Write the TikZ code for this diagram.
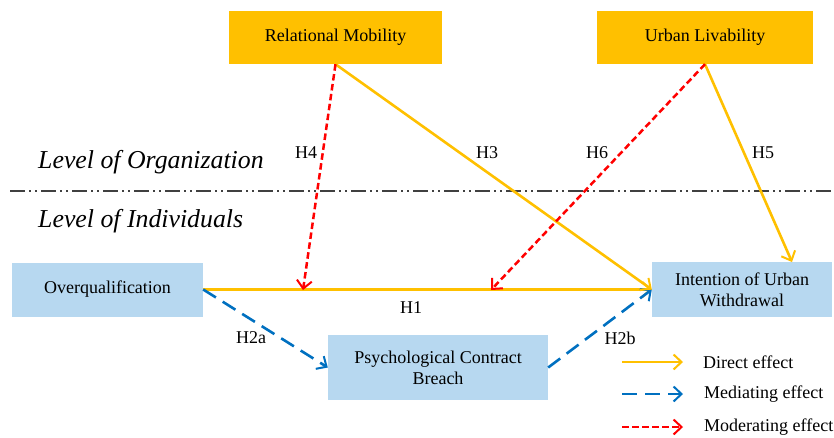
\documentclass[tikz,border=0pt]{standalone}
\usepackage{fontspec}
\setmainfont{Liberation Serif}
\usetikzlibrary{arrows.meta}
\definecolor{gold}{HTML}{FFC000}
\definecolor{paleblue}{HTML}{B7D8F0}
\definecolor{medblue}{HTML}{0070C0}
\definecolor{modred}{HTML}{FF0000}
\tikzset{
  txt/.style={font=\fontsize{18}{21}\selectfont},
  levelbox/.style={txt, fill=gold, minimum width=213pt, minimum height=53pt, inner sep=0pt},
  varbox/.style={txt, fill=paleblue, inner sep=0pt, align=center},
  direct/.style={draw=gold, line width=2.6pt, -{Straight Barb[length=8pt,width=15pt,line width=2pt]}},
  mediate/.style={draw=medblue, line width=2.6pt, dash pattern=on 15pt off 8pt, -{Straight Barb[length=8pt,width=15pt,line width=2pt]}},
  moderate/.style={draw=modred, line width=2.5pt, dash pattern=on 6.5pt off 3.5pt, -{Straight Barb[length=8pt,width=15pt,line width=2pt]}},
  hyp/.style={txt, inner sep=1pt},
  level/.style={font=\fontsize{25.8}{30}\selectfont\itshape, anchor=west, inner sep=0pt},
}
\begin{document}
\begin{tikzpicture}[x=1pt, y=-1pt]
  \useasboundingbox (0,0) rectangle (834,437);

  % organisation-level moderators
  \node[levelbox] (rm) at (335.5,37.5) {Relational Mobility};
  \node[levelbox, minimum width=216pt] (ul) at (705,37.5) {Urban Livability};

  % individual-level variables
  \node[varbox, minimum width=191pt, minimum height=54pt] (oq) at (107.5,289.5) {Overqualification};
  \node[varbox, minimum width=220pt, minimum height=65pt] (pcb) at (438,367.5) {Psychological Contract\\Breach};
  \node[varbox, minimum width=180pt, minimum height=55pt] (iuw) at (742,289.5) {Intention of Urban\\Withdrawal};

  % separator between the two levels
  \draw[black!75, line width=1.4pt, dash pattern=on 15pt off 4pt on 2pt off 4pt on 2pt off 4pt] (10,191) -- (832,191);
  \node[level] (lorg) at (38,162) {Level of Organization};
  \node[level] (lind) at (38,221) {Level of Individuals};

  % points where the moderating paths meet H1
  \coordinate (m4) at (303,290);
  \coordinate (m6) at (491,290);
  \coordinate (h5end) at (792,262);

  % paths
  \draw[direct] (oq.east) -- (iuw.west);
  \draw[mediate] (oq.east) -- (pcb.west);
  \draw[mediate] (pcb.east) -- (iuw.west);
  \draw[direct] (rm.south) -- (iuw.west);
  \draw[direct] (ul.south) -- (h5end);
  \draw[moderate] (rm.south) -- (m4);
  \draw[moderate] (ul.south) -- (m6);

  % hypothesis labels
  \node[hyp] (h1) at (411,308) {H1};
  \node[hyp] (h2a) at (251,338) {H2a};
  \node[hyp] (h2b) at (620,338) {H2b};
  \node[hyp] (h3) at (487,153) {H3};
  \node[hyp] (h4) at (306,153) {H4};
  \node[hyp] (h5) at (763,153) {H5};
  \node[hyp] (h6) at (597,153) {H6};

  % legend
  \coordinate (da) at (622,362); \coordinate (db) at (683,362);
  \coordinate (ma) at (622,394); \coordinate (mb) at (683,394);
  \coordinate (ra) at (622,427); \coordinate (rb) at (683,427);
  \draw[direct] (da) -- (db);
  \draw[mediate] (ma) -- (mb);
  \draw[moderate] (ra) -- (rb);
  \node[txt, anchor=west, inner sep=0pt] (ld) at (703,362) {Direct effect};
  \node[txt, anchor=west, inner sep=0pt] (lm) at (704,394) {Mediating effect};
  \node[txt, anchor=west, inner sep=0pt] (lr) at (704,427) {Moderating effect};
\end{tikzpicture}
\end{document}
